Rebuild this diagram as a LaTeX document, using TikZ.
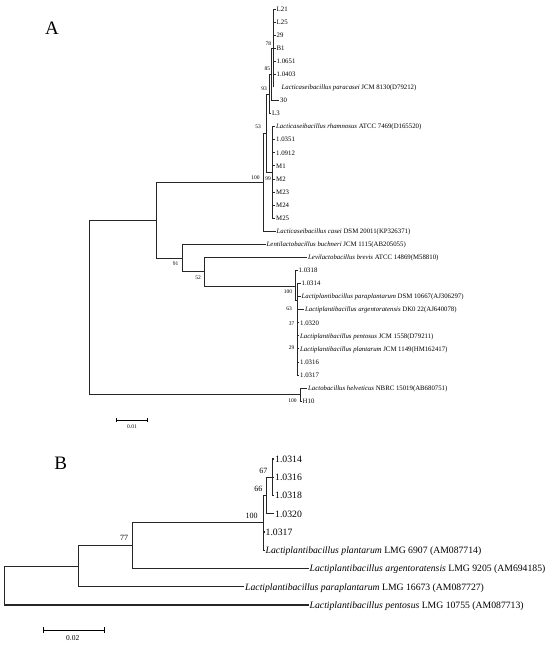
\documentclass[tikz,border=0pt]{standalone}
\usepackage{fontspec}
\setmainfont{Liberation Serif}
\usetikzlibrary{arrows.meta}

\begin{document}
\begin{tikzpicture}[x=1pt,y=-1pt]
  \tikzset{
    branch/.style={line width=0.8pt, draw=black!85},
    branchB/.style={line width=1.1pt, draw=black!85},
    leafA/.style={anchor=west, inner sep=1pt, text height=4.6pt, text depth=0pt, font=\fontsize{6.8}{8}\selectfont},
    leafB/.style={anchor=west, inner sep=1pt, text height=6.6pt, text depth=0pt, font=\fontsize{9.7}{11}\selectfont},
    boot/.style={inner sep=0pt, font=\fontsize{5.5}{6}\selectfont},
    bootB/.style={inner sep=0pt, font=\fontsize{8}{9}\selectfont},
    panel/.style={inner sep=0pt, font=\fontsize{19}{22}\selectfont},
    scalebar/.style={line width=0.8pt, {Bar[width=4.5pt]}-{Bar[width=4.5pt]}}
  }
  \useasboundingbox (0,0) rectangle (550,647);

  % ---------- panel A ----------
  \node[panel] (labA) at (52,28) {A};
  \coordinate (aRoot) at (89,307.3);
  \coordinate (aUp) at (156,220.1);
  \coordinate (aN100) at (263.5,182.2);
  \coordinate (aN53) at (266.5,133.2);
  \coordinate (aN93) at (269.3,94);
  \coordinate (aN85) at (271.5,74.4);
  \coordinate (aN78) at (273.5,48.2);
  \coordinate (aN99) at (272.3,172.4);
  \coordinate (aN91) at (182.3,258);
  \coordinate (aN52) at (204.3,271.7);
  \coordinate (aLp) at (295,286);
  \coordinate (aLpIn) at (297,300);
  \coordinate (aHel) at (300,394.6);

  \foreach \name/\txt/\yy in {L21/L21/9, L25/L25/22.1, s29/29/35.1, B1/B1/48.2, s0651/1.0651/61.3, s0403/1.0403/74.4}{
    \node[leafA] (a\name) at (275.5,\yy) {\txt};
    \draw[branch] (aN78) |- (a\name.west);
  }
  \node[leafA] (aParacasei) at (280.5,87.4) {\textit{Lacticaseibacillus paracasei} JCM 8130(D79212)};
  \node[leafA] (a30) at (279,100.5) {30};
  \node[leafA] (aL3) at (271,113.6) {L3};
  \node[leafA] (aRham) at (275,126.6) {\textit{Lacticaseibacillus rhamnosus} ATCC 7469(D165520)};
  \foreach \name/\txt/\yy in {s0351/1.0351/139.7, s0912/1.0912/152.8, M1/M1/165.8, M2/M2/178.9, M23/M23/192, M24/M24/205.1, M25/M25/218.1}{
    \node[leafA] (a\name) at (275,\yy) {\txt};
    \draw[branch] (aN99) |- (a\name.west);
  }
  \node[leafA] (aCasei) at (275.5,231.2) {\textit{Lacticaseibacillus casei} DSM 20011(KP326371)};
  \node[leafA] (aBuchneri) at (265.5,244.3) {\textit{Lentilactobacillus buchneri} JCM 1115(AB205055)};
  \node[leafA] (aBrevis) at (307,257.3) {\textit{Levilactobacillus brevis} ATCC 14869(M58810)};
  \node[leafA] (a0318) at (297.5,270.4) {1.0318};
  \node[leafA] (a0314) at (300.5,283.5) {1.0314};
  \node[leafA] (aParapl) at (300.5,296.5) {\textit{Lactiplantibacillus paraplantarum} DSM 10667(AJ306297)};
  \node[leafA] (aArgent) at (304,309.6) {\textit{Lactiplantibacillus argentoratensis} DK0 22(AJ640078)};
  \foreach \name/\txt/\yy in {s0320/1.0320/322.7, Pent/{\textit{Lactiplantibacillus pentosus} JCM 1558(D79211)}/335.8, Plant/{\textit{Lactiplantibacillus plantarum} JCM 1149(HM162417)}/348.8, s0316/1.0316/361.9, s0317/1.0317/375}{
    \node[leafA] (a\name) at (299,\yy) {\txt};
    \draw[branch] (aLpIn) |- (a\name.west);
  }
  \node[leafA] (aHelv) at (307,388) {\textit{Lactobacillus helveticus} NBRC 15019(AB680751)};
  \node[leafA] (aH10) at (301.5,401.1) {H10};

  \draw[branch] (aRoot) |- (aUp);
  \draw[branch] (aRoot) |- (aHel);
  \draw[branch] (aUp) |- (aN100);
  \draw[branch] (aUp) |- (aN91);
  \draw[branch] (aN100) |- (aN53);
  \draw[branch] (aN100) |- (aCasei.west);
  \draw[branch] (aN53) |- (aN93);
  \draw[branch] (aN53) |- (aN99);
  \draw[branch] (aN99) |- (aRham.west);
  \draw[branch] (aN93) |- (aN85);
  \draw[branch] (aN93) |- (aL3.west);
  \draw[branch] (aN85) |- (aN78);
  \draw[branch] (aN85) |- (a30.west);
  \draw[branch] (aN78) -- (aN78 |- aParacasei.west);
  \draw[branch] (aN91) |- (aBuchneri.west);
  \draw[branch] (aN91) |- (aN52);
  \draw[branch] (aN52) |- (aBrevis.west);
  \draw[branch] (aN52) |- (aLp);
  \draw[branch] (aLp) |- (a0318.west);
  \draw[branch] (aLp) |- (aLpIn);
  \draw[branch] (aLpIn) |- (a0314.west);
  \draw[branch] (aLpIn) |- (aParapl.west);
  \draw[branch] (aLpIn) |- (aArgent.west);
  \draw[branch] (aHel) |- (aHelv.west);
  \draw[branch] (aHel) |- (aH10.west);

  \foreach \v/\x/\y [count=\k] in {78/268.3/43.3, 85/267.3/68.3, 93/264/88.3, 53/258/126.7, 100/255.5/177.5, 99/268/178.5, 91/175.7/263.3, 52/198/277.3, 100/288/291.7, 63/289/308.5, 37/291.5/323.5, 29/291.5/347.3, 100/292.5/400.7}
    \node[boot] (bsA\k) at (\x,\y) {\v};

  \coordinate (sA0) at (116,420);
  \coordinate (sA1) at (148,420);
  \draw[scalebar] (sA0) -- (sA1);
  \node[boot] (sAlab) at (132,427) {0.01};

  % ---------- panel B ----------
  \node[panel] (labB) at (60.8,463) {B};
  \coordinate (bRoot) at (4.3,585.6);
  \coordinate (bN2) at (78.3,566.2);
  \coordinate (bN77) at (132.7,545.7);
  \coordinate (bN100) at (263.3,522.9);
  \coordinate (bN66) at (266.7,495.5);
  \coordinate (bN67) at (272.7,477.25);

  \foreach \name/\yy in {0314/459, 0316/477.25, 0318/495.5}{
    \node[leafB] (b\name) at (274,\yy) {1.\name};
    \draw[branchB] (bN67) |- (b\name.west);
  }
  \node[leafB] (b0320) at (274,513.75) {1.0320};
  \node[leafB] (b0317) at (264.5,532) {1.0317};
  \node[leafB] (bPlant) at (264.5,550.25) {\textit{Lactiplantibacillus plantarum} LMG 6907 (AM087714)};
  \node[leafB] (bArgent) at (308.5,568.5) {\textit{Lactiplantibacillus argentoratensis} LMG 9205 (AM694185)};
  \node[leafB] (bParapl) at (244,586.75) {\textit{Lactiplantibacillus paraplantarum} LMG 16673 (AM087727)};
  \node[leafB] (bPent) at (308.5,605) {\textit{Lactiplantibacillus pentosus} LMG 10755 (AM087713)};

  \draw[branchB] (bRoot) |- (bN2);
  \draw[branchB] (bRoot) |- (bPent.west);
  \draw[branchB] (bN2) |- (bN77);
  \draw[branchB] (bN2) |- (bParapl.west);
  \draw[branchB] (bN77) |- (bN100);
  \draw[branchB] (bN77) |- (bArgent.west);
  \draw[branchB] (bN100) |- (bN66);
  \draw[branchB] (bN100) |- (b0317.west);
  \draw[branchB] (bN100) |- (bPlant.west);
  \draw[branchB] (bN66) |- (bN67);
  \draw[branchB] (bN66) |- (b0320.west);

  \foreach \v/\x/\y [count=\k] in {67/263.3/470.7, 66/258.3/489, 100/251.7/515.7, 77/124/538.3}
    \node[bootB] (bsB\k) at (\x,\y) {\v};

  \coordinate (sB0) at (42.7,630.3);
  \coordinate (sB1) at (105.3,630.3);
  \draw[scalebar, line width=1pt, {Bar[width=6pt]}-{Bar[width=6pt]}] (sB0) -- (sB1);
  \node[inner sep=0pt, font=\fontsize{7.5}{9}\selectfont] (sBlab) at (72.7,638.3) {0.02};
\end{tikzpicture}
\end{document}
